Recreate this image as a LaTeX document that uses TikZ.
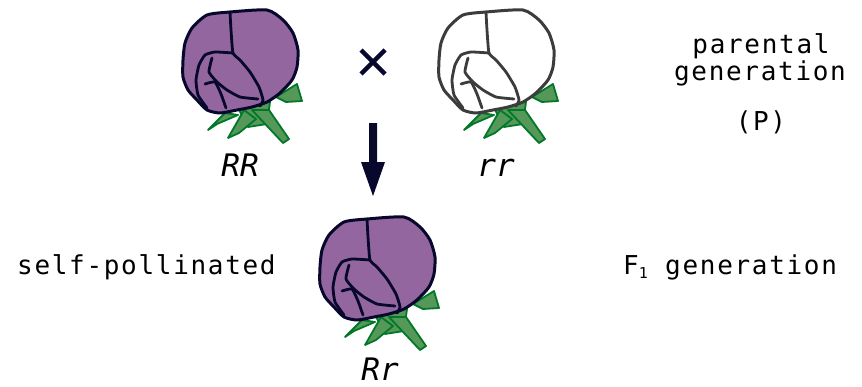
\documentclass[tikz,border=0pt]{standalone}
\usepackage{fontspec}
\newfontfamily\tagfont[LetterSpace=6.5]{DejaVu Sans Mono}
\newfontfamily\genofont{DejaVu Sans Mono Oblique}
\definecolor{petalpurple}{RGB}{148,102,160}
\definecolor{inkblue}{RGB}{8,8,45}
\definecolor{inkgray}{RGB}{60,60,60}
\definecolor{leafdark}{RGB}{0,120,40}
\definecolor{leaflight}{RGB}{85,152,90}
\tikzset{
  leaf/.style={fill=leaflight, draw=leafdark, line width=1.8pt, line join=round},
  tagtext/.style={font=\tagfont\fontsize{26}{27}\selectfont, inner sep=0pt, anchor=base},
  genotext/.style={font=\genofont\fontsize{31}{31}\selectfont, inner sep=0pt, anchor=base},
  pics/flower/.style n args={2}{code={
    % sepals under the bud
    \path[leaf] (66,104) -- (100,102) -- (97,124) -- (78,127) -- cycle;
    \path[leaf] (55,113) -- (38,130) -- (47,124) -- (68,115) -- cycle;
    \path[leaf] (74,110) -- (58,138) -- (69,133) -- (86,119) -- cycle;
    \path[leaf] (82,110) -- (113,143) -- (119,139) -- (99,110) -- cycle;
    \path[leaf] (106,97) -- (127,84) -- (132,101) -- (116,102) -- cycle;
    % bud outline
    \path[draw=#2, fill=#1, line width=3pt, line join=round]
      plot[smooth cycle, tension=0.4] coordinates {
        (37,15) (60,12) (97,10) (113,20) (123,33) (128,50) (127,67)
        (122,80) (110,93) (97,102) (82,107) (67,110) (50,113) (37,110)
        (27,100) (18,90) (13,77) (13,60) (15,43) (22,28)};
    % petal folds
    \begin{scope}[draw=#2, line width=2.8pt, line join=round, line cap=round]
      \draw plot[smooth, tension=0.3] coordinates {
        (60,12) (61,30) (63,53) (70,60) (80,72) (89,87) (93,100) (90,106)};
      \draw plot[smooth, tension=0.3] coordinates {
        (63,53) (45,52) (35,55) (29,65) (26,80) (28,95) (37,108)};
      \draw plot[smooth, tension=0.3] coordinates {
        (42,58) (39,72) (47,82) (57,90) (70,97) (88,99)};
      \draw plot[smooth, tension=0.3] coordinates {
        (35,84) (45,82) (51,94) (56,108)};
    \end{scope}
  }}
}
\begin{document}
\begin{tikzpicture}[x=1pt, y=-1pt]
  \useasboundingbox (0,0) rectangle (862,386);

  % parents and offspring
  \pic (parentRR) at (170,0) {flower={petalpurple}{inkblue}};
  \pic (parentrr) at (426,0) {flower={white}{inkgray}};
  \pic (childRr) at (307,207) {flower={petalpurple}{inkblue}};

  \node[genotext] (tagRR) at (240,176) {RR};
  \node[genotext] (tagrr) at (496,176) {rr};
  \node[genotext] (tagRr) at (380,380) {Rr};

  % cross sign
  \coordinate (crossC) at (373,62);
  \draw[inkblue, line width=4.5pt]
    ([shift={(-12,-12)}]crossC) -- ([shift={(12,12)}]crossC)
    ([shift={(-12,12)}]crossC) -- ([shift={(12,-12)}]crossC);

  % arrow from the cross down to the F1 bud
  \coordinate (arrowTop) at (373,123);
  \coordinate (arrowTip) at (373,196);
  \fill[inkblue]
    ([xshift=-4]arrowTop) -- ([xshift=4]arrowTop)
    -- ([shift={(4,-34)}]arrowTip) -- ([shift={(12,-34)}]arrowTip)
    -- (arrowTip) -- ([shift={(-12,-34)}]arrowTip)
    -- ([shift={(-4,-34)}]arrowTip) -- cycle;

  % generation labels
  \node[tagtext] (parental) at (761,53) {parental};
  \node[tagtext] (generation) at (760,80) {generation};
  \node[tagtext] (pLabel) at (761,130) {(P)};
  \node[tagtext, anchor=base west] (selfpol) at (17,274) {self-pollinated};
  \node[tagtext, anchor=base west] (fone) at (623,274) {F\raisebox{-4pt}{\fontsize{15}{15}\selectfont 1} generation};
\end{tikzpicture}
\end{document}
